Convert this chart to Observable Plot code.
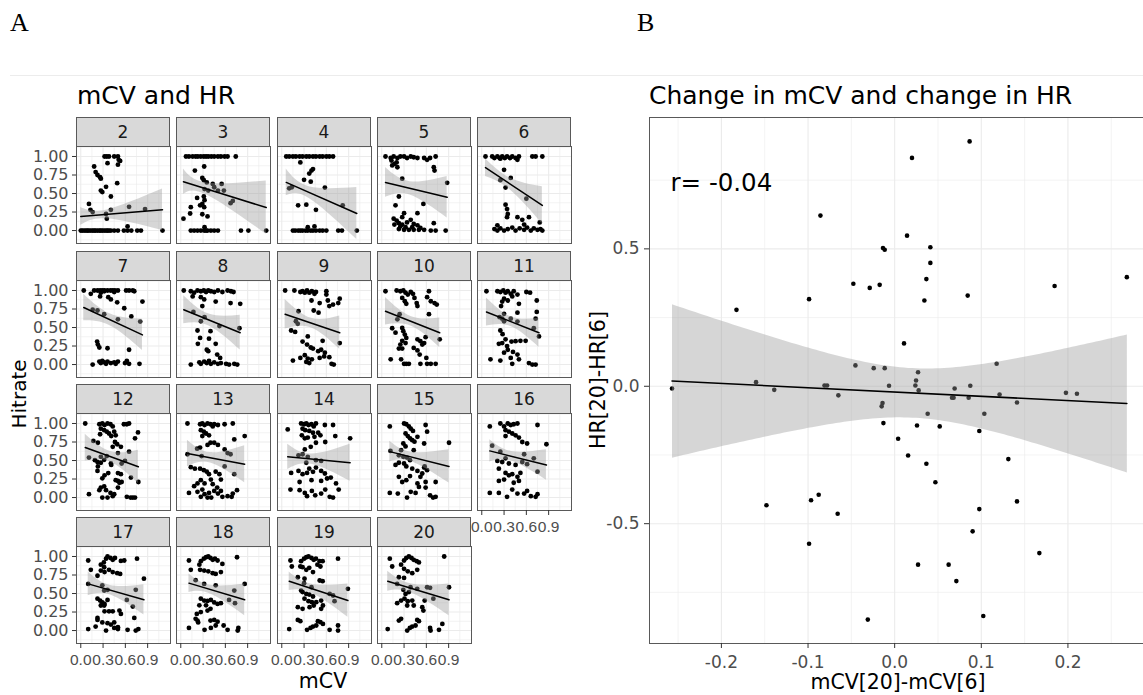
<!DOCTYPE html>
<html><head><meta charset="utf-8">
<script src="https://cdn.jsdelivr.net/npm/d3@7"></script>
<script src="https://cdn.jsdelivr.net/npm/@observablehq/plot@0.6"></script>
<style>
html,body{margin:0;padding:0;background:#fff;}
body{width:1143px;height:695px;position:relative;overflow:hidden;font-family:"DejaVu Sans",sans-serif;}
.strip{position:absolute;box-sizing:border-box;background:#d9d9d9;border:1px solid #595959;text-align:center;color:#1a1a1a;font-size:17px;line-height:28px;}
.pl{position:absolute;}
</style></head><body>
<script>
// ---------- DATA ----------
const panelLetters = ["A", "B"];
const leftTitle = "mCV and HR";
const rightTitle = "Change in mCV and change in HR";
const leftXLabel = "mCV", leftYLabel = "Hitrate";
const rightXLabel = "mCV[20]-mCV[6]", rightYLabel = "HR[20]-HR[6]";
const rLabel = "r= -0.04";

const facetIds = [2,3,4,5,6,7,8,9,10,11,12,13,14,15,16,17,18,19,20];
const facetXTicks = [0, 0.3, 0.6, 0.9];
const facetXMinor = [0.15, 0.45, 0.75, 1.05];
const facetYTicks = [0, 0.25, 0.5, 0.75, 1];
const facetYMinor = [-0.125, 0.125, 0.375, 0.625, 0.875, 1.125];

// fitted line + confidence band per facet, in facetIds order
const smoothX0    = [0, .036, .06, .05, .05, .04, .04, .045, .05, .063, .06, .09, .08, .108, .108, .10, .11, .10, .08];
const smoothX1    = [1.10, 1.15, 1.01, .88, .815, .83, .80, .78, .78, .77, .775, .86, .92, .905, .87, .85, .86, .89, .905];
const smoothXMid  = [.35, .35, .37, .38, .38, .40, .38, .40, .40, .40, .40, .40, .40, .40, .40, .40, .40, .40, .40];
const fitY0       = [.19, .66, .65, .65, .85, .77, .74, .68, .72, .71, .675, .595, .55, .62, .63, .63, .64, .665, .665];
const fitY1       = [.28, .31, .23, .45, .34, .40, .43, .43, .43, .43, .415, .45, .47, .42, .44, .415, .415, .405, .415];
const bandHalf0   = [.12, .17, .18, .20, .12, .18, .19, .20, .185, .19, .18, .18, .17, .14, .15, .16, .125, .125, .135];
const bandHalfMid = [.06, .08, .08, .09, .08, .08, .08, .065, .065, .065, .07, .07, .07, .065, .065, .065, .06, .06, .06];
const bandHalf1   = [.28, .36, .35, .28, .25, .21, .235, .225, .20, .195, .225, .25, .25, .225, .205, .205, .215, .225, .215];

const f2 = [[.32,1],[.35,1],[.38,1],[.45,1],[.50,1],[.51,.955],[.53,.94],[.36,.91],[.50,.89],
[.18,.865],[.20,.79],[.225,.75],[.26,.72],[.27,.70],[.49,.64],[.27,.54],[.29,.52],[.34,.59],[.405,.46],
[.11,.36],[.13,.28],[.16,.25],[.34,.225],[.35,.16],[.405,.28],[.65,.32],[.865,.29],[.63,.055],
[0,0],[.02,0],[.045,0],[.07,0],[.09,0],[.11,0],[.135,0],[.16,0],[.18,0],[.2,0],[.225,0],[.25,0],[.27,0],[.29,0],[.315,0],[.34,0],[.36,0],[.38,0],[.405,0],[.45,0],[.5,0],[.58,0],[.63,0],[.68,0],[.76,0],[.81,0],[1.10,0]];
const f3 = [[.07,1],[.11,1],[.16,1],[.2,1],[.23,1],[.27,1],[.31,1],[.34,1],[.37,1],[.41,1],[.45,1],[.5,1],[.54,1],[.59,1],[.63,1],[.74,1],
[.315,.865],[.19,.81],[.29,.71],[.31,.68],[.35,.65],[.43,.63],[.45,.585],[.55,.63],[.32,.56],[.37,.54],[.22,.44],[.31,.46],[.32,.41],[.29,.36],[.26,.34],[.315,.315],[.135,.315],[.126,.23],[.036,.16],[.29,.22],[.36,.19],[.5,.54],[.58,.54],[.67,.37],[.70,.40],
[.135,0],[.18,0],[.225,0],[.27,0],[.315,0],[.34,0],[.36,0],[.405,0],[.45,0],[.5,0],[.81,0],[.91,0],[1.15,0],[.32,.045]];
const f4 = [[.06,1],[.10,1],[.15,1],[.19,1],[.24,1],[.28,1],[.33,1],[.37,1],[.42,1],[.46,1],[.51,1],[.55,1],[.60,1],[.64,1],[.69,1],
[.25,.92],[.40,.81],[.42,.83],[.37,.77],[.30,.685],[.39,.66],[.10,.57],[.135,.585],[.58,.58],[.22,.34],[.33,.35],[.46,.28],[.82,.34],
[.15,0],[.18,0],[.22,0],[.25,0],[.28,0],[.32,0],[.35,0],[.39,0],[.42,0],[.46,0],[.51,0],[.55,0],[.60,0],[.76,0],[.81,0],[1.01,0],[.35,.045],[.44,.055]];
const f5 = [[.05,1],[.12,.98],[.16,1],[.21,.98],[.25,1],[.30,1],[.34,.98],[.39,1],[.43,.99],[.48,.98],[.57,.98],[.61,.955],[.65,.98],[.725,1],
[.13,.945],[.17,.90],[.21,.855],[.20,.92],[.14,.88],[.70,.855],[.71,.81],[.275,.70],[.88,.645],[.23,.46],[.185,.34],[.56,.36],[.30,.235],[.48,.235],
[.16,.16],[.20,.135],[.23,.10],[.275,.08],[.32,.045],[.34,.11],[.39,.145],[.43,.09],[.48,.07],[.52,.035],[.23,.02],[.30,.01],[.365,.01],[.43,.01],[.50,.01],[.275,.18],[.17,.08],[.25,.055],[.41,.045],[.57,.01],
[.70,.10],[.66,0],[.725,0],[.86,0]];
const f6 = [[.05,1],[.14,1],[.17,.98],[.21,1],[.24,.98],[.275,1],[.31,.98],[.34,1],[.38,.98],[.41,1],[.455,.98],[.50,1],[.68,1],[.725,1],[.815,1],[.48,.955],[.25,.97],
[.30,.82],[.39,.71],[.25,.68],[.32,.58],[.60,.43],[.32,.35],[.34,.29],[.35,.225],[.34,.18],[.48,.18],[.545,.145],[.635,.18],[.78,.11],
[.17,.02],[.21,0],[.25,.03],[.30,0],[.35,.02],[.41,.04],[.455,0],[.51,.03],[.57,.01],[.61,.04],[.66,0],[.70,.03],[.75,.01],[.79,.02],[.815,0],[.21,.07],[.57,.08]];
const f7 = [[.04,1],[.18,1],[.225,1],[.26,1],[.29,1],[.32,1],[.36,1],[.40,1],[.43,1],[.46,1],[.50,1],[.61,1],[.65,1],[.72,.99],[.27,.97],[.315,.99],[.45,.98],[.70,1],
[.135,.955],[.26,.92],[.37,.91],[.405,.88],[.49,.84],[.83,.85],[.585,.76],[.16,.74],[.225,.73],[.315,.68],[.50,.61],[.68,.65],[.80,.58],
[.22,.31],[.23,.27],[.25,.23],[.36,.22],[.65,.20],
[.16,0],[.25,.04],[.27,.02],[.29,.05],[.315,.03],[.34,.01],[.36,.04],[.405,.02],[.45,.03],[.47,.01],[.50,.04],[.595,.02],[.62,.05],[.65,.01],[.79,.01]];
const f8 = [[.04,1],[.135,.99],[.18,.97],[.225,1],[.27,.99],[.31,1],[.34,.98],[.37,1],[.405,.99],[.45,.98],[.50,1],[.56,.98],[.63,1],[.675,.99],[.71,.98],
[.16,.92],[.27,.91],[.315,.88],[.29,.79],[.47,.85],[.67,.83],[.80,.82],[.17,.71],[.27,.585],[.32,.64],[.52,.52],
[.225,.46],[.40,.45],[.26,.36],[.38,.35],[.23,.28],[.47,.28],[.35,.20],[.37,.18],[.49,.135],[.53,.09],[.79,.49],
[.135,0],[.25,.03],[.27,.01],[.315,.04],[.35,.02],[.38,.05],[.405,.01],[.45,.03],[.50,.01],[.54,.02],[.61,.01],[.65,0],[.72,.01],[.76,0]];
const f9 = [[.045,1],[.17,1],[.25,.98],[.28,.99],[.31,.97],[.34,1],[.37,.97],[.405,.99],[.44,.955],[.46,.98],[.60,.99],[.60,.945],
[.40,.865],[.51,.83],[.62,.865],[.69,.81],[.76,.83],[.78,.89],[.43,.73],[.495,.70],[.64,.79],[.225,.72],[.19,.585],[.215,.55],[.126,.46],[.18,.44],
[.35,.38],[.28,.31],[.34,.27],[.39,.23],[.42,.215],[.49,.18],[.53,.20],[.58,.16],[.55,.32],[.78,.29],
[.31,.126],[.35,.08],[.405,.07],[.51,.09],[.57,.11],[.64,.10],[.15,.054],[.25,.09],[.33,.036],[.37,.02],[.67,.01],[.70,0]];
const f10 = [[.05,.99],[.20,1],[.25,.99],[.29,1],[.32,.97],[.35,.945],[.39,.98],[.42,.955],[.275,.90],[.31,.855],[.33,.82],[.44,.90],[.47,.83],[.48,.79],
[.635,.99],[.61,.91],[.66,.855],[.71,.83],[.74,.81],[.635,.68],[.21,.61],[.24,.68],
[.14,.49],[.185,.43],[.275,.495],[.29,.45],[.31,.405],[.33,.36],[.275,.32],[.25,.27],[.32,.29],[.48,.34],[.52,.315],[.545,.27],[.59,.37],[.43,.225],[.48,.19],[.51,.135],[.57,.29],[.78,.34],
[.23,.215],[.275,.215],[.12,.07],[.26,.07],[.30,.01],[.33,.01],[.365,.01],[.52,.01],[.61,.01],[.66,.01],[.725,.01],[.60,.09]];
const f11 = [[.063,.99],[.21,.99],[.25,.98],[.29,1],[.32,.97],[.35,.99],[.39,.955],[.41,.92],[.43,.99],[.30,.89],[.275,.85],[.35,.865],[.48,.945],[.50,.82],[.60,.98],[.65,.97],[.74,.865],
[.26,.79],[.30,.685],[.48,.70],[.74,.71],[.275,.62],[.24,.64],[.30,.585],[.39,.62],[.48,.58],[.725,.62],[.77,.38],[.70,.49],
[.25,.46],[.28,.41],[.32,.34],[.23,.28],[.275,.29],[.34,.25],[.40,.31],[.455,.315],[.52,.32],[.59,.32],[.35,.20],[.42,.17],[.48,.135],[.30,.16],
[.117,.07],[.25,.054],[.39,.09],[.41,.01],[.50,.07],[.635,.02],[.68,0],[.725,0]];
const f12 = [[.06,1],[.25,.99],[.29,1],[.32,.98],[.36,1],[.40,.99],[.43,.96],[.27,.93],[.315,.91],[.35,.89],[.38,.865],[.41,.83],[.45,.89],[.47,.84],[.26,.855],
[.58,.99],[.62,.99],[.65,1],[.77,.88],[.73,.80],
[.17,.765],[.23,.74],[.46,.75],[.49,.72],[.54,.685],[.43,.685],
[.11,.54],[.19,.505],[.27,.55],[.35,.56],[.50,.60],[.65,.62],[.225,.48],[.27,.47],[.315,.51],[.405,.46],[.55,.46],[.595,.495],
[.225,.36],[.37,.33],[.23,.42],[.41,.44],[.50,.33],[.54,.315],[.32,.30],[.29,.26],
[.11,.045],[.25,.10],[.27,.135],[.315,.15],[.34,.10],[.40,.063],[.45,.045],[.50,.135],[.52,.20],[.47,.234],[.50,.225],[.55,.21],
[.29,0],[.36,0],[.43,.018],[.62,.01],[.67,0],[.70,0],[.73,0],[.675,.27],[.775,.21]];
const f13 = [[.09,1],[.26,.99],[.29,1],[.32,.98],[.36,1],[.40,.99],[.43,.96],[.45,.99],[.50,.98],[.27,.91],[.31,.89],[.34,.865],[.38,.84],[.29,.83],
[.59,.99],[.70,1],[.86,.83],[.72,.785],[.45,.74],[.50,.71],[.36,.71],[.40,.74],
[.22,.66],[.26,.675],[.59,.65],[.67,.585],[.28,.56],[.09,.585],[.72,.315],[.59,.42],[.63,.60],
[.135,.41],[.19,.39],[.26,.39],[.31,.37],[.35,.35],[.38,.315],[.47,.35],[.52,.315],[.405,.243],[.27,.234],[.225,.19],[.32,.19],[.43,.18],[.54,.243],
[.11,.063],[.225,.077],[.29,.108],[.32,.045],[.38,.063],[.45,.09],[.50,.054],[.54,.09],[.56,.01],[.63,.018],[.685,.01],[.757,.10],[.70,.054],[.18,.153],[.49,.135],
[.36,0],[.41,0],[.27,.01]];
const f14 = [[.08,.92],[.26,1],[.30,.99],[.33,1],[.36,.98],[.40,.99],[.43,.96],[.46,1],[.28,.93],[.315,.91],[.37,.90],[.42,.875],[.27,.84],[.31,.80],[.35,.81],[.44,.82],[.49,.875],[.52,.84],[.585,.75],[.46,.74],
[.58,.98],[.69,.98],[.72,.83],[.92,.80],[.31,.65],[.39,.685],
[.225,.57],[.28,.585],[.35,.55],[.46,.505],[.53,.495],[.33,.47],
[.37,.39],[.46,.405],[.53,.36],[.58,.325],[.66,.27],[.61,.257],
[.126,.333],[.225,.36],[.28,.315],[.34,.333],[.42,.347],
[.24,.21],[.40,.234],[.53,.225],[.73,.19],
[.117,.108],[.24,.10],[.31,.063],[.34,.018],[.405,.09],[.45,.03],[.53,.054],[.585,.108],[.645,.01],[.69,0],[.766,.108]];
const f15 = [[.108,.96],[.30,1],[.33,.99],[.365,.96],[.39,.93],[.42,.90],[.32,.865],[.35,.83],[.38,.80],[.41,.775],[.29,.73],[.32,.69],[.44,.755],[.48,.82],[.59,.98],[.61,.89],[.57,.73],[.905,.74],
[.26,.64],[.117,.63],
[.23,.57],[.29,.55],[.34,.54],[.38,.505],[.43,.64],[.30,.46],
[.185,.44],[.23,.47],[.33,.42],[.41,.39],[.48,.36],[.57,.405],[.61,.37],[.545,.325],[.52,.28],[.577,.42],
[.23,.28],[.275,.21],[.33,.234],[.38,.29],[.48,.19],[.50,.144],[.59,.21],[.725,.21],
[.108,.063],[.216,.054],[.34,0],[.39,.077],[.455,.063],[.59,.135],[.65,.03],[.69,0],[.725,.01]];
const f16 = [[.108,.96],[.25,1],[.30,.96],[.35,1],[.39,.98],[.43,.99],[.48,1],[.32,.91],[.365,.89],[.41,.865],[.455,.84],[.50,.81],[.32,.83],[.75,.98],[.545,.75],[.87,.72],
[.14,.70],[.25,.62],[.61,.73],[.70,.53],[.75,.35],
[.21,.495],[.275,.48],[.32,.53],[.365,.46],[.455,.44],[.545,.48],[.61,.45],[.57,.585],
[.23,.39],[.32,.333],[.365,.30],[.41,.315],[.48,.28],[.52,.333],[.30,.243],[.23,.225],[.50,.225],[.43,.20],
[.108,.063],[.23,.063],[.34,.01],[.41,.108],[.48,.054],[.57,.054],[.61,.09],[.66,.018],[.725,.01],[.75,.045]];
const f17 = [[.10,.946],[.135,.82],[.10,.02],[.20,.054],[.34,0],[.45,.036],[.50,.02],[.63,.01],[.74,0],[.775,.02],
[.27,.89],[.31,.92],[.34,.97],[.36,1],[.40,.98],[.43,.955],[.46,.98],[.27,.81],[.32,.79],[.38,.82],[.43,.79],[.49,.775],[.225,.74],[.53,.765],[.315,.855],[.54,.94],[.585,.946],
[.757,.97],[.85,.70],
[.10,.63],[.29,.61],[.36,.55],[.315,.54],[.74,.55],[.70,.324],[.62,.414],
[.225,.43],[.26,.405],[.29,.38],[.32,.36],[.36,.414],[.315,.338],[.27,.338],
[.32,.26],[.38,.26],[.43,.26],[.52,.27],[.54,.225],[.225,.17],[.225,.144],[.72,.17],
[.29,.11],[.36,.10],[.405,.08],[.45,.11],[.50,.045]];
const f18 = [[.11,.946],[.135,.82],[.11,.036],[.225,.135],[.216,.225],[.27,.25],
[.25,.89],[.27,.937],[.31,.97],[.34,.99],[.37,1],[.40,.98],[.43,.955],[.46,.97],[.495,.946],[.26,.82],[.315,.81],[.37,.80],[.43,.775],[.47,.765],[.54,.79],[.56,.90],[.757,.99],
[.20,.68],[.315,.63],[.47,.61],[.72,.54],[.73,.37],[.65,.414],
[.27,.43],[.315,.405],[.36,.40],[.405,.414],[.45,.38],[.495,.36],[.54,.37],[.34,.34],[.25,.34],[.40,.293],[.36,.27],
[.20,.158],[.234,.11],[.40,.135],[.45,.144],[.495,.12],
[.32,.01],[.405,.036],[.47,.068],[.577,.068],[.63,.01],[.775,.036],[.766,0],[.86,.63]];
const f19 = [[.117,.946],[.135,.865],[.10,.02],
[.26,.937],[.30,.97],[.33,.99],[.36,1],[.40,.98],[.43,.955],[.46,.97],[.51,.937],[.55,.937],[.28,.856],[.33,.82],[.37,.847],[.42,.79],[.48,.89],[.52,.865],[.25,.865],[.757,.97],
[.51,.676],[.55,.667],[.306,.70],
[.216,.72],[.30,.64],[.40,.585],[.644,.495],[.71,.396],[.69,.473],[.26,.54],
[.28,.52],[.33,.495],[.37,.486],[.42,.46],[.306,.43],[.36,.396],[.405,.383],[.464,.383],[.53,.405],[.554,.338],[.43,.338],[.53,.293],
[.216,.315],[.28,.293],[.374,.315],
[.216,.144],[.25,.126],[.486,.126],[.52,.113],[.554,.09],
[.34,.01],[.387,.036],[.42,.054],[.464,.068],[.644,.01],[.757,.068],[.757,0],[.89,.563]];
const f20 = [[.108,.97],[.14,.865],[.08,.02],
[.26,.89],[.30,.946],[.33,.98],[.365,1],[.40,.98],[.43,.955],[.47,.937],[.50,.92],[.30,.833],[.35,.80],[.41,.775],[.477,.82],[.84,1],
[.23,.72],[.30,.71],[.387,.585],
[.207,.63],[.29,.55],[.365,.52],[.477,.563],[.61,.585],[.65,.577],[.694,.43],[.577,.405],
[.207,.37],[.26,.405],[.306,.43],[.35,.396],[.41,.405],[.43,.338],[.545,.315],[.56,.27],[.32,.495],[.342,.338],
[.23,.135],[.26,.158],[.477,.144],[.50,.126],[.815,.09],
[.342,0],[.378,.036],[.41,.054],[.455,.068],[.65,.036],[.657,0],[.77,.01],[.905,.585]];
const facetPoints = {2:f2,3:f3,4:f4,5:f5,6:f6,7:f7,8:f8,9:f9,10:f10,11:f11,12:f12,13:f13,14:f14,15:f15,16:f16,17:f17,18:f18,19:f19,20:f20};

// Panel B
const bChangeMCV = [-0.257,-0.160,-0.139,-0.081,-0.078,-0.065,-0.0065,-0.015,-0.014,-0.013,0.004,-0.148,-0.0965,-0.0877,-0.0658,-0.0988,-0.031,-0.0857,-0.0135,-0.0115,-0.1826,-0.0988,-0.0477,-0.0288,-0.0173,-0.0453,-0.0242,-0.0115,0.020,0.0865,0.0143,0.0412,0.0412,0.0366,0.0343,0.0843,0.1846,0.268,0.0108,0.027,0.1177,0.0239,0.0247,0.0277,0.0692,0.0873,0.0662,0.068,0.0854,0.1211,0.1412,0.1977,0.2104,0.0381,0.1035,0.0258,0.052,0.0977,0.0155,0.0366,0.1312,0.047,0.1412,0.0977,0.090,0.167,0.027,0.0623,0.0712,0.1023];
const bChangeHR = [-0.008,0.015,-0.013,0.003,0.003,-0.033,0.002,-0.073,-0.061,-0.134,-0.191,-0.433,-0.415,-0.395,-0.464,-0.573,-0.849,0.621,0.503,0.497,0.278,0.317,0.373,0.358,0.369,0.076,0.066,0.066,0.831,0.891,0.548,0.506,0.449,0.39,0.312,0.330,0.365,0.397,0.156,0.051,0.082,0.003,0.021,-0.015,-0.008,0.002,-0.042,-0.042,-0.042,-0.030,-0.059,-0.024,-0.027,-0.100,-0.100,-0.143,-0.146,-0.163,-0.252,-0.282,-0.265,-0.349,-0.419,-0.447,-0.528,-0.607,-0.649,-0.649,-0.709,-0.836];
const bXTicks = [-0.2, -0.1, 0, 0.1, 0.2];
const bXMinor = [-0.25, -0.15, -0.05, 0.05, 0.15, 0.25];
const bYTicks = [-0.5, 0, 0.5];
const bYMinor = [-0.75, -0.25, 0.25, 0.75];

// ---------- LAYOUT ----------
const FONT = '"DejaVu Sans", sans-serif';
const NARROW = '"Liberation Sans", Arial, sans-serif';
const GRID = "#ebebeb";
const W = 94, H = 97, STRIP = 29;
const colLeft = [76, 176, 277, 377, 477];
const rowTop = [117, 251, 384, 517];
const baseStyle = {background: "transparent", overflow: "visible", fontFamily: FONT};

function gridMarks(xMaj, xMin, yMaj, yMin) {
  return [
    Plot.gridX(xMin, {stroke: GRID, strokeOpacity: 1, strokeWidth: 0.6}),
    Plot.gridY(yMin, {stroke: GRID, strokeOpacity: 1, strokeWidth: 0.6}),
    Plot.gridX(xMaj, {stroke: GRID, strokeOpacity: 1, strokeWidth: 1.1}),
    Plot.gridY(yMaj, {stroke: GRID, strokeOpacity: 1, strokeWidth: 1.1})
  ];
}

facetIds.forEach((id, i) => {
  const col = i % 5, row = Math.floor(i / 5);
  const hasY = col === 0;
  const hasX = row === 3 || (col === 4 && row === 2);
  const ml = hasY ? 70 : 0, mb = hasX ? 30 : 0;
  const pts = facetPoints[id];
  const x0 = smoothX0[i], x1 = smoothX1[i], xm = smoothXMid[i];
  const fitAt = x => fitY0[i] + (fitY1[i] - fitY0[i]) * (x - x0) / (x1 - x0);
  const band = [
    {x: x0, lo: fitAt(x0) - bandHalf0[i], hi: fitAt(x0) + bandHalf0[i]},
    {x: xm, lo: fitAt(xm) - bandHalfMid[i], hi: fitAt(xm) + bandHalfMid[i]},
    {x: x1, lo: fitAt(x1) - bandHalf1[i], hi: fitAt(x1) + bandHalf1[i]}
  ];
  const fitLine = [{x: x0, y: fitY0[i]}, {x: x1, y: fitY1[i]}];
  const marks = [
    ...gridMarks(facetXTicks, facetXMinor, facetYTicks, facetYMinor),
    Plot.dot(pts, {x: d => d[0], y: d => d[1], r: 2.4, fill: "black", stroke: "none"}),
    Plot.areaY(band, {x: "x", y1: "lo", y2: "hi", fill: "#999999", fillOpacity: 0.4, curve: "natural"}),
    Plot.line(fitLine, {x: "x", y: "y", stroke: "black", strokeWidth: 1.5}),
    Plot.frame({stroke: "#595959"})
  ];
  if (hasY) marks.push(Plot.axisY(facetYTicks, {tickFormat: d => d.toFixed(2), tickSize: 4, tickPadding: 4, fontSize: 16, stroke: "#333", fill: "#4d4d4d", label: null}));
  if (hasX) marks.push(Plot.axisX(facetXTicks, {tickFormat: d => d.toFixed(1), tickSize: 5, tickPadding: 5, fontSize: 15.5, fontFamily: NARROW, stroke: "#333", fill: "#4d4d4d", label: null}));
  const svg = Plot.plot({
    width: ml + W, height: H + mb,
    marginLeft: ml, marginRight: 0, marginTop: 0, marginBottom: mb,
    x: hasX ? {domain: [-0.0575, 1.2075]} : {domain: [-0.0575, 1.2075], axis: null},
    y: hasY ? {domain: [-0.175, 1.135]} : {domain: [-0.175, 1.135], axis: null},
    style: baseStyle,
    marks
  });
  svg.classList.add("pl");
  svg.style.left = (colLeft[col] - ml) + "px";
  svg.style.top = (rowTop[row] + STRIP) + "px";
  document.body.appendChild(svg);
  const strip = document.createElement("div");
  strip.className = "strip";
  strip.style.left = colLeft[col] + "px";
  strip.style.top = rowTop[row] + "px";
  strip.style.width = W + "px";
  strip.style.height = (STRIP + 1) + "px";
  strip.textContent = String(id);
  document.body.appendChild(strip);
});

// Panel B
const bData = bChangeMCV.map((x, i) => ({x, y: bChangeHR[i]}));
const bLeft = 575, bTop = 110;
const bPlot = Plot.plot({
  width: 573, height: 585,
  marginLeft: 74, marginRight: 0, marginTop: 7, marginBottom: 52,
  x: {domain: [-0.283, 0.293]},
  y: {domain: [-0.936, 0.978]},
  style: baseStyle,
  marks: [
    ...gridMarks(bXTicks, bXMinor, bYTicks, bYMinor),
    Plot.dot(bData, {x: "x", y: "y", r: 2.3, fill: "black", stroke: "none"}),
    Plot.linearRegressionY(bData, {x: "x", y: "y", stroke: "black", strokeWidth: 1.6, fill: "#999999", fillOpacity: 0.4}),
    Plot.frame({stroke: "#595959"}),
    Plot.axisY(bYTicks, {tickFormat: d => d.toFixed(1), tickSize: 5, tickPadding: 5, fontSize: 17, stroke: "#333", fill: "#4d4d4d", label: null}),
    Plot.axisX(bXTicks, {tickFormat: d => d.toFixed(1), tickSize: 5, tickPadding: 7, fontSize: 17, stroke: "#333", fill: "#4d4d4d", label: null}),
    Plot.text([rLabel], {text: d => d, frameAnchor: "top-left", lineAnchor: "middle", dx: 21, dy: 66, fontSize: 24.5, fill: "black", textAnchor: "start"})
  ]
});
bPlot.classList.add("pl");
bPlot.style.left = bLeft + "px";
bPlot.style.top = bTop + "px";
document.body.appendChild(bPlot);

// Overlay text
const ov = d3.select("body").append("svg")
  .attr("width", 1143).attr("height", 695)
  .style("position", "absolute").style("left", 0).style("top", 0).style("pointer-events", "none")
  .style("font-family", FONT);
ov.append("line").attr("x1", 10).attr("x2", 1143).attr("y1", 75.5).attr("y2", 75.5).attr("stroke", "#ececec");
ov.append("text").attr("x", 10).attr("y", 31).style("font-family", '"Liberation Serif", serif').style("font-size", "26px").text(panelLetters[0]);
ov.append("text").attr("x", 637).attr("y", 31).style("font-family", '"Liberation Serif", serif').style("font-size", "26px").text(panelLetters[1]);
ov.append("text").attr("x", 77).attr("y", 104).style("font-size", "25px").attr("fill", "#000").text(leftTitle);
ov.append("text").attr("x", 649).attr("y", 104).style("font-size", "25px").attr("fill", "#000").text(rightTitle);
ov.append("text").attr("x", 323).attr("y", 688).attr("text-anchor", "middle").style("font-size", "20.5px").text(leftXLabel);
ov.append("text").attr("transform", "translate(26,394) rotate(-90)").attr("text-anchor", "middle").style("font-size", "20px").text(leftYLabel);
ov.append("text").attr("x", 898).attr("y", 689).attr("text-anchor", "middle").style("font-size", "20.5px").text(rightXLabel);
ov.append("text").attr("transform", "translate(605,380) rotate(-90)").attr("text-anchor", "middle").style("font-size", "20.5px").text(rightYLabel);
</script>
</body></html>
